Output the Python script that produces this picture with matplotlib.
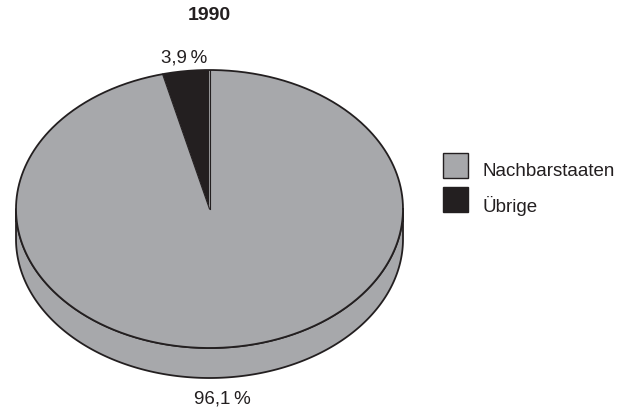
import numpy as np
import matplotlib.pyplot as plt
from matplotlib.patches import Polygon, Rectangle

plt.rcParams['font.family'] = ['Liberation Sans', 'DejaVu Sans']

# data
year = "1990"
categories = ["Nachbarstaaten", "Übrige"]
shares = [96.1, 3.9]
share_labels = ["96,1\u2009%", "3,9\u2009%"]
colors = ["#a7a8ab", "#231f20"]

# geometry of the pseudo-3D pie (pixel coordinates)
cx, cy = 209.5, 209.0
rx, ry = 193.5, 139.0
depth = 30.0


def ell(t, dy=0.0):
    return np.column_stack([cx + rx * np.cos(t), cy - ry * np.sin(t) + dy])


fig = plt.figure(figsize=(6.32, 4.13), dpi=100)
ax = fig.add_axes([0, 0, 1, 1])
ax.set_xlim(0, 632)
ax.set_ylim(413, 0)
ax.axis("off")

# side wall (front half of the disc)
t = np.linspace(np.pi, 2 * np.pi, 300)
side = np.vstack([ell(t), ell(t[::-1], depth)])
ax.add_patch(Polygon(side, closed=True, facecolor=colors[0],
                     edgecolor="#231f20", lw=1.3, joinstyle="round"))

# top face wedges; the small slice runs counterclockwise from 12 o'clock
angles = np.deg2rad(360 * np.cumsum([0] + shares[::-1]) / 100) + np.pi / 2
order = [1, 0]
for k, idx in enumerate(order):
    a0, a1 = angles[k], angles[k + 1]
    tt = np.linspace(a0, a1, 400)
    pts = np.vstack([[cx, cy], ell(tt)])
    ax.add_patch(Polygon(pts, closed=True, facecolor=colors[idx],
                         edgecolor="none"))

# outlines
tt = np.linspace(0, 2 * np.pi, 600)
ax.plot(*ell(tt).T, color="#231f20", lw=1.3)
for a in angles[:2]:
    ax.plot([cx, cx + rx * np.cos(a)], [cy, cy - ry * np.sin(a)],
            color="#231f20", lw=0.8)

# labels
ax.text(184, 58, share_labels[1], ha="center", va="center",
        fontsize=13.5, color="#231f20")
ax.text(222, 399, share_labels[0], ha="center", va="center",
        fontsize=13.5, color="#231f20")
ax.text(209, 16, year, ha="center", va="center", fontsize=14,
        fontweight="bold", color="#231f20")

# legend
for i, (name, col) in enumerate(zip(categories, colors)):
    y0 = 153 + i * 34
    ax.add_patch(Rectangle((443, y0), 25, 25, facecolor=col,
                           edgecolor="#231f20", lw=1.0))
    ax.text(483, y0 + 19, name, ha="left", va="center", fontsize=13.5,
            color="#231f20")

fig.savefig("out.png", dpi=100)
